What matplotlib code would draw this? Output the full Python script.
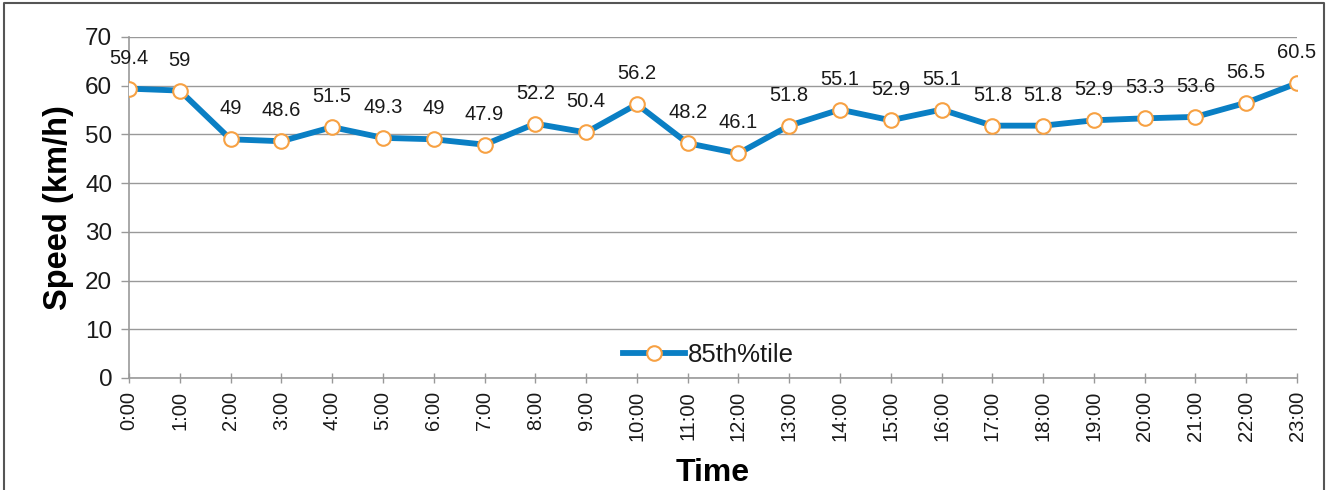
import numpy as np
import matplotlib
matplotlib.use("Agg")
import matplotlib.pyplot as plt
from matplotlib.lines import Line2D

plt.rcParams['font.family'] = ['Liberation Sans', 'DejaVu Sans']

hours = ["%d:00" % h for h in range(24)]
speed_85 = [59.4, 59, 49, 48.6, 51.5, 49.3, 49, 47.9, 52.2, 50.4, 56.2, 48.2,
            46.1, 51.8, 55.1, 52.9, 55.1, 51.8, 51.8, 52.9, 53.3, 53.6, 56.5, 60.5]
yticks = [0, 10, 20, 30, 40, 50, 60, 70]

fig = plt.figure(figsize=(13.33, 4.90), dpi=100)
ax = fig.add_axes([0.0968, 0.2286, 0.8762, 0.6959])

x = np.arange(len(hours))
ax.plot(x, speed_85, color='#0a7fc4', lw=4.2, marker='o', ms=10.5,
        mfc='white', mec='#f7a143', mew=1.5, label='85th%tile', zorder=3,
        solid_joinstyle='round')

for xi, v in zip(x, speed_85):
    ax.annotate("%g" % v, (xi, v), xytext=(0, 22), textcoords='offset points',
                ha='center', va='center', fontsize=14.5, color='#1a1a1a',
                annotation_clip=False, zorder=4)

ax.set_xlim(0, 23)
ax.set_ylim(0, 70)
ax.set_yticks(yticks)
ax.set_xticks(x)
ax.set_xticklabels(hours, rotation=90, fontsize=14.5, color='#1a1a1a')
ax.tick_params(axis='y', labelsize=17.5, colors='#1a1a1a', length=6,
               width=1, color='#999999', pad=6)
ax.tick_params(axis='x', direction='inout', length=7, width=1,
               color='#999999', pad=6)
ax.grid(axis='y', color='#999999', lw=1)
ax.set_axisbelow(True)
for s in ['top', 'right']:
    ax.spines[s].set_visible(False)
for s in ['left', 'bottom']:
    ax.spines[s].set_color('#999999')
    ax.spines[s].set_linewidth(1.2)

ax.set_ylabel('Speed (km/h)', fontsize=23.5, fontweight='bold', labelpad=8)
ax.set_xlabel('Time', fontsize=23, fontweight='bold', labelpad=12)

leg = ax.legend(loc='center', bbox_to_anchor=(0.496, 0.067), frameon=False,
                fontsize=18.5, handlelength=2.4, handletextpad=0.1,
                borderpad=0, labelcolor='#1a1a1a')

# outer frame around the chart (no bottom edge)
fx0, fx1, fy = 4 / 1333, 1324 / 1333, 1 - 3 / 490
fig.add_artist(Line2D([fx0, fx0, fx1, fx1], [0, fy, fy, 0],
                      transform=fig.transFigure, color='#555555', lw=1.5))

fig.savefig('out.png', dpi=100)
